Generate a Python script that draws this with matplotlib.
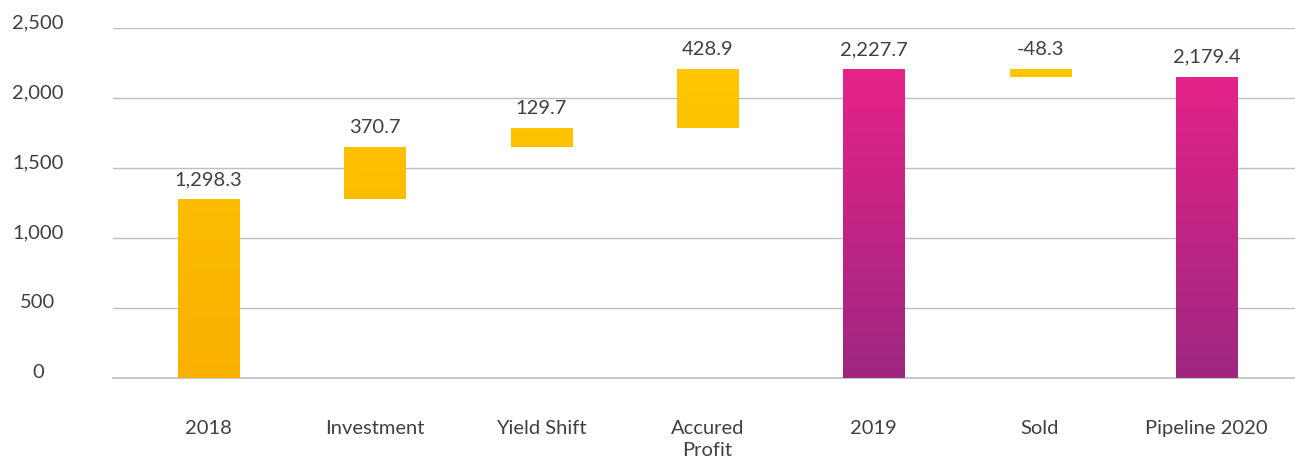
import matplotlib
matplotlib.use("Agg")
import matplotlib.pyplot as plt
import matplotlib.transforms as mtransforms
import numpy as np
from matplotlib.colors import LinearSegmentedColormap

categories = ["2018", "Investment", "Yield Shift", "Accured\nProfit", "2019", "Sold", "Pipeline 2020"]
# bar step values as drawn
steps = [1275, 377, 136, 417, None, -53, None]   # None = running total bar
is_total = [True, False, False, False, True, False, True]
value_labels = ["1,298.3", "370.7", "129.7", "428.9", "2,227.7", "-48.3", "2,179.4"]
yticks = [0, 500, 1000, 1500, 2000, 2500]

plt.rcParams['font.family'] = ['Lato', 'DejaVu Sans']
text_color = "#404040"
fs = 14.5

fig = plt.figure(figsize=(12.95, 4.59), dpi=100)
ax = fig.add_axes([113/1295, 81/459, 1182/1295, 350/459])

yellow = LinearSegmentedColormap.from_list("y", ["#FAB000", "#FFC700"])
pink = LinearSegmentedColormap.from_list("p", ["#9E2780", "#E8228A"])

bottoms, tops = [], []
run = 0
for i, s in enumerate(steps):
    if s is None:
        bottoms.append(0); tops.append(run)
    elif i == 0:
        bottoms.append(0); tops.append(s); run = s
    else:
        lo, hi = sorted([run, run + s])
        bottoms.append(lo); tops.append(hi); run += s

x = np.arange(len(categories))
width = 0.367
ymax_grad = 2250
for i in range(len(categories)):
    b, t = bottoms[i], tops[i]
    rect = ax.bar(x[i], t - b, bottom=b, width=width, color="none",
                  edgecolor="none", zorder=3)[0]
    cmap = pink if (is_total[i] and i > 0) else yellow
    g0, g1 = b / ymax_grad, t / ymax_grad
    col = np.linspace(g0, g1, 256).reshape(-1, 1)
    im = ax.imshow(col, extent=[x[i] - width/2, x[i] + width/2, b, t],
                   origin="lower", cmap=cmap, vmin=0, vmax=1, aspect="auto", zorder=3)
    im.set_clip_path(rect)
    ax.annotate(value_labels[i], (x[i], t), xytext=(0, 8), textcoords="offset points",
                ha="center", va="bottom", fontsize=fs, color=text_color)

ax.set_xlim(-0.574, 6.533)
ax.set_ylim(0, 2500)
ax.set_yticks(yticks)
ax.set_yticklabels([f"{v:,}" for v in yticks])
ax.set_xticks(x)
ax.set_xticklabels(categories, linespacing=1.38)
shift = mtransforms.ScaledTranslation(0, -2/100, fig.dpi_scale_trans)
for lab in ax.get_yticklabels():
    lab.set_ha("center")
    lab.set_va("baseline")
    lab.set_transform(lab.get_transform() + shift)
ax.tick_params(axis="y", length=0, pad=54, labelsize=fs, labelcolor=text_color)
ax.tick_params(axis="x", length=0, pad=30, labelsize=fs, labelcolor=text_color)

ax.grid(axis="y", color="#BFBFBF", linewidth=1.0, zorder=0)
ax.axhline(0, color="#BFBFBF", linewidth=1.2, zorder=1, clip_on=False)
ax.set_axisbelow(True)
for s in ax.spines.values():
    s.set_visible(False)

fig.savefig("out.png", dpi=100)
